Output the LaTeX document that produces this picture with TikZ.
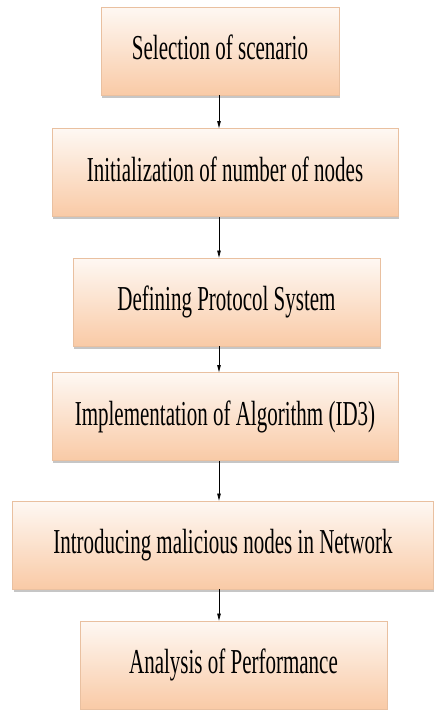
\documentclass[tikz,border=0pt]{standalone}
\usepackage{fontspec}
\setmainfont[FakeStretch=0.6]{Liberation Serif}
\usetikzlibrary{arrows.meta, shadows}
\definecolor{peachtop}{RGB}{254, 248, 243}
\definecolor{peachbot}{RGB}{249, 202, 166}
\definecolor{peachline}{RGB}{233, 192, 160}

\begin{document}
\begin{tikzpicture}[x=1pt, y=-1pt,
        stepbox/.style={rectangle, draw=peachline, line width=0.8pt,
          top color=peachtop, bottom color=peachbot, inner sep=0pt,
          minimum height=88pt, text height=24pt, text depth=7pt,
          font=\fontsize{35}{40}\selectfont,
          drop shadow={shadow xshift=1pt, shadow yshift=-2.5pt, opacity=0.45}},
        conn/.style={-{Triangle[length=7pt, width=3.5pt]}, line width=0.7pt, black}
      ]
        \useasboundingbox (0,0) rectangle (434,710);
        \coordinate (ax) at (219,0);
        % the six steps
        \node[stepbox, minimum width=238pt] (b1) at (220,51)    {Selection of scenario};
        \node[stepbox, minimum width=346pt] (b2) at (225,172.5) {Initialization of number of nodes};
        \node[stepbox, minimum width=307pt] (b3) at (226.5,302) {Defining Protocol System};
        \node[stepbox, minimum width=346pt] (b4) at (225,416.5) {Implementation of Algorithm (ID3)};
        \node[stepbox, minimum width=421pt] (b5) at (223,545)   {Introducing malicious nodes in Network};
        \node[stepbox, minimum width=307pt] (b6) at (233.5,665) {Analysis of Performance};
        \foreach \i/\j in {1/2, 2/3, 3/4, 4/5, 5/6} { \draw[conn] (b\i.south -| ax) -- (b\j.north -| ax); }
      \end{tikzpicture}
\end{document}
